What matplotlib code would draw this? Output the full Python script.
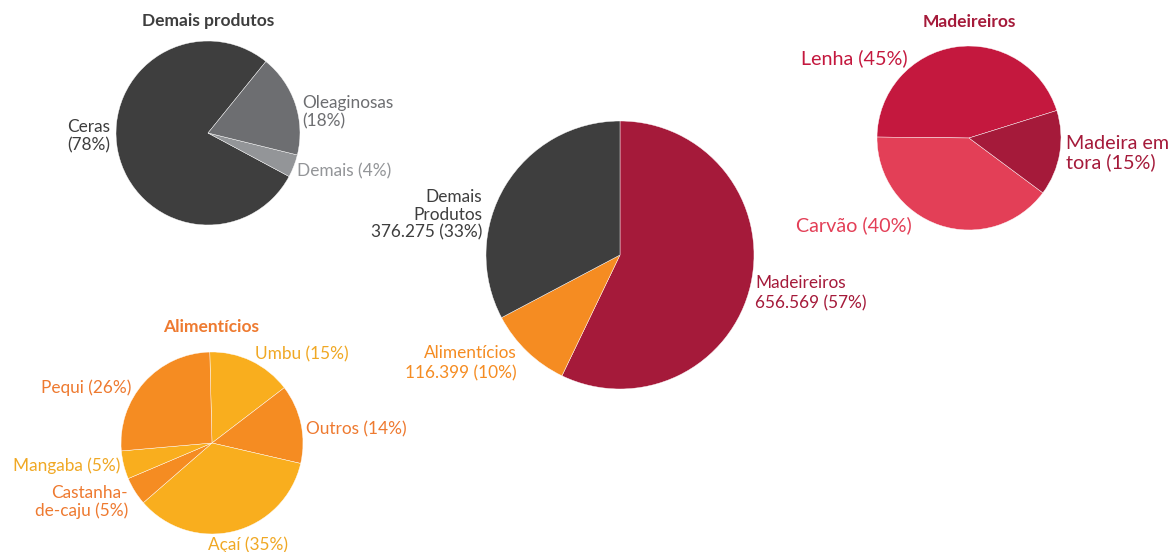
import matplotlib.pyplot as plt

plt.rcParams['font.family'] = ['Lato', 'DejaVu Sans']

W, H = 1173, 552

# dados
total_cats = ['Madeireiros', 'Alimentícios', 'Demais\nProdutos']
total_vals = [656569, 116399, 376275]
total_pct = [57, 10, 33]

demais_cats = ['Ceras', 'Demais', 'Oleaginosas']
demais_pct = [78, 4, 18]

madeira_cats = ['Lenha', 'Carvão', 'Madeira em\ntora']
madeira_pct = [45, 40, 15]

alim_cats = ['Umbu', 'Outros', 'Açaí', 'Castanha-\nde-caju', 'Mangaba', 'Pequi']
alim_pct = [15, 14, 35, 5, 5, 26]

DARK = '#3e3e3e'
RED = '#a51a3a'
ORANGE = '#f58c22'
YELLOW = '#f9ae1e'
LBL_OR = '#ee7a30'
LBL_YE = '#f0a824'

fig = plt.figure(figsize=(W / 100, H / 100), dpi=100)
ax = fig.add_axes([0, 0, 1, 1])


def y(py):
    return H - py


def fmt(v):
    return f'{v:,}'.replace(',', '.')


wedge = dict(edgecolor='white', linewidth=0.3)
fs = 12.4     # rotulos normais
fs2 = 14.2    # rotulos do grafico de madeireiros
fst = 12.5    # titulos

# pizza principal
ax.pie(total_vals, colors=[RED, ORANGE, DARK], startangle=90, counterclock=False,
       center=(620, y(255)), radius=134, wedgeprops=wedge)
ax.text(755, y(293), f'{total_cats[0]}\n{fmt(total_vals[0])} ({total_pct[0]}%)',
        ha='left', va='center', color=RED, fontsize=fs, linespacing=1.35)
ax.text(517, y(363), f'{total_cats[1]}\n{fmt(total_vals[1])} ({total_pct[1]}%)',
        ha='right', va='center', color=ORANGE, fontsize=fs, linespacing=1.35, multialignment='right')
ax.text(482, y(215), f'{total_cats[2]}\n{fmt(total_vals[2])} ({total_pct[2]}%)',
        ha='right', va='center', color=DARK, fontsize=fs, linespacing=1.12, multialignment='right')

# demais produtos
ax.pie(demais_pct, colors=[DARK, '#939598', '#6d6e71'], startangle=51,
       center=(208, y(133)), radius=92, wedgeprops=wedge)
ax.text(208, y(21), 'Demais produtos', ha='center', va='center', color=DARK,
        fontsize=fst, fontweight='bold')
ax.text(110, y(136), f'{demais_cats[0]}\n({demais_pct[0]}%)', ha='right', va='center',
        color=DARK, fontsize=fs, linespacing=1.18, multialignment='right')
ax.text(297, y(171), f'{demais_cats[1]} ({demais_pct[1]}%)', ha='left', va='center',
        color='#939598', fontsize=fs)
ax.text(302, y(112), f'{demais_cats[2]}\n({demais_pct[2]}%)', ha='left', va='center',
        color='#6d6e71', fontsize=fs, linespacing=1.15)

# madeireiros
ax.pie(madeira_pct, colors=['#c4183e', '#e33f57', RED], startangle=17.4,
       center=(969, y(138)), radius=92, wedgeprops=wedge)
ax.text(969, y(22), 'Madeireiros', ha='center', va='center', color=RED,
        fontsize=fst, fontweight='bold')
ax.text(908, y(58), f'{madeira_cats[0]} ({madeira_pct[0]}%)', ha='right', va='center',
        color='#c4183e', fontsize=fs2)
ax.text(912, y(225), f'{madeira_cats[1]} ({madeira_pct[1]}%)', ha='right', va='center',
        color='#e33f57', fontsize=fs2)
ax.text(1066, y(153), f'{madeira_cats[2]} ({madeira_pct[2]}%)', ha='left', va='center',
        color=RED, fontsize=fs2, linespacing=1.08)

# alimentícios
ax.pie(alim_pct, colors=[YELLOW, ORANGE, YELLOW, ORANGE, YELLOW, ORANGE],
       startangle=91.4, counterclock=False,
       center=(212, y(443)), radius=91, wedgeprops=wedge)
ax.text(211, y(327), 'Alimentícios', ha='center', va='center', color=LBL_OR,
        fontsize=fst, fontweight='bold')
alim_pos = [(255, 354, 'left', LBL_YE), (306, 429, 'left', LBL_OR),
            (248, 545, 'center', LBL_YE), (128, 502, 'right', LBL_OR),
            (120, 466, 'right', LBL_YE), (131, 388, 'right', LBL_OR)]
for cat, p, (px, py, ha, c) in zip(alim_cats, alim_pct, alim_pos):
    ax.text(px, y(py), f'{cat} ({p}%)', ha=ha, va='center', color=c,
            fontsize=fs, linespacing=1.08, multialignment=ha if ha != 'center' else 'center')

# pie() mexe nos limites, entao fixa no fim
ax.set_xlim(0, W)
ax.set_ylim(0, H)
ax.set_aspect('equal')
ax.axis('off')

fig.savefig('out.png', dpi=100)
